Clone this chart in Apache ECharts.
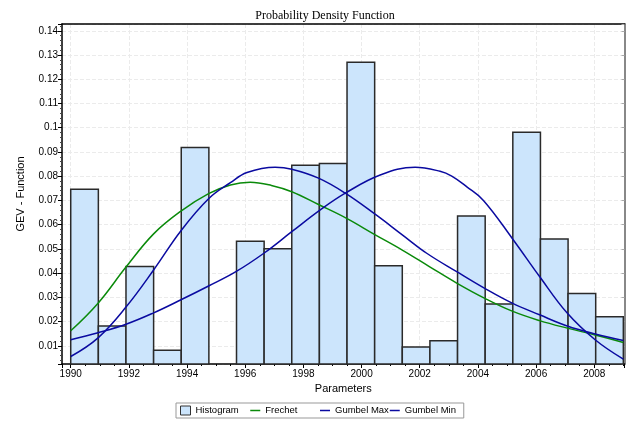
<!DOCTYPE html>
<html>
<head>
<meta charset="utf-8">
<script src="https://cdn.jsdelivr.net/npm/echarts@6/dist/echarts.min.js"></script>
<style>html,body{margin:0;padding:0;background:#fff;}#c{width:629px;height:424px;}</style>
</head>
<body>
<div id="c"></div>
<script>
// Histogram bins (start, end) and densities
var binStarts = [1990, 1990.95, 1991.9, 1992.85, 1993.8, 1994.75, 1995.7, 1996.65, 1997.6, 1998.55,
                 1999.5, 2000.45, 2001.4, 2002.35, 2003.3, 2004.25, 2005.2, 2006.15, 2007.1, 2008.05];
var binEnds   = [1990.95, 1991.9, 1992.85, 1993.8, 1994.75, 1995.7, 1996.65, 1997.6, 1998.55, 1999.5,
                 2000.45, 2001.4, 2002.35, 2003.3, 2004.25, 2005.2, 2006.15, 2007.1, 2008.05, 2009];
var histValues = [0.0746, 0.0182, 0.0427, 0.0082, 0.0918, 0, 0.0532, 0.0501, 0.0845, 0.0852,
                  0.1270, 0.0430, 0.0095, 0.0121, 0.0636, 0.0273, 0.0981, 0.0541, 0.0316, 0.0220];

// Frechet curve
var frechetX = [1990.0, 1990.94, 1991.9, 1992.85, 1993.79, 1994.74, 1995.49, 1996.17, 1996.9, 1997.6,
                1998.52, 1999.47, 2000.44, 2001.4, 2002.33, 2003.27, 2004.22, 2005.18, 2006.12, 2007.07, 2008.03, 2009.0];
var frechetY = [0.0162, 0.0276, 0.0425, 0.0562, 0.0656, 0.0728, 0.0764, 0.0775, 0.0762, 0.0736,
                0.0683, 0.0627, 0.0560, 0.0495, 0.0427, 0.0359, 0.0297, 0.0243, 0.0204, 0.0173, 0.0145, 0.0114];

// Gumbel Max curve
var gumbelMaxX = [1990.0, 1990.94, 1991.9, 1992.85, 1993.79, 1994.74, 1995.49, 1996.06, 1997.03, 1997.6,
                  1998.52, 1999.44, 2000.5, 2001.4, 2002.24, 2003.27, 2004.22, 2005.18, 2006.12, 2007.07, 2008.03, 2009.0];
var gumbelMaxY = [0.0056, 0.0133, 0.0260, 0.0413, 0.0575, 0.0707, 0.0773, 0.0815, 0.0837, 0.0829,
                  0.0792, 0.0730, 0.0640, 0.0558, 0.0482, 0.0406, 0.0338, 0.0276, 0.0228, 0.0182, 0.0149, 0.0122];

// Gumbel Min curve
var gumbelMinX = [1990.0, 1990.94, 1991.9, 1992.85, 1993.79, 1994.74, 1995.68, 1996.64, 1997.6, 1998.58,
                  1999.44, 2000.64, 2001.84, 2002.7, 2003.1, 2003.62, 2004.19, 2005.2, 2006.12, 2007.07, 2008.03, 2009.0];
var gumbelMinY = [0.0125, 0.0154, 0.0189, 0.0236, 0.0290, 0.0347, 0.0406, 0.0482, 0.0571, 0.0661,
                  0.0730, 0.0805, 0.0837, 0.0820, 0.0800, 0.0756, 0.0700, 0.0540, 0.0386, 0.0235, 0.0125, 0.0045];

var X_MIN = 1989.7, X_MAX = 2009.04, Y_MIN = 0.0025, Y_MAX = 0.1428;

function pairs(xs, ys) { return xs.map(function (x, i) { return [x, ys[i]]; }); }
var histData = binStarts.map(function (s, i) { return [s, binEnds[i], histValues[i]]; });

var GREEN = '#0a8a0a', BLUE = '#0a0aa0', BAR = '#CCE5FC';
var chart = echarts.init(document.getElementById('c'), null, { renderer: 'canvas' });
var SANS = 'Liberation Sans, Arial, sans-serif';
var option = {
  animation: false,
  backgroundColor: '#fff',
  textStyle: { fontFamily: SANS },
  title: {
    text: 'Probability Density Function',
    left: 320, top: 5, textAlign: 'center',
    textStyle: { fontFamily: 'Liberation Serif, Times New Roman, serif', fontSize: 12, fontWeight: 'normal', color: '#000' }
  },
  legend: {
    left: 176, top: 403,
    padding: [2, 5, 2, 4],
    borderColor: '#999', borderWidth: 1,
    itemGap: 0, itemWidth: 10, itemHeight: 9,
    textStyle: { fontSize: 9.5, color: '#000', width: 54, lineHeight: 11, fontFamily: SANS },
    data: [
      { name: 'Histogram', icon: 'rect', itemStyle: { color: BAR, borderColor: '#333', borderWidth: 1 } },
      { name: 'Frechet', icon: 'line', itemStyle: { color: GREEN, borderColor: GREEN, borderWidth: 1.5 } },
      { name: 'Gumbel Max', icon: 'line', itemStyle: { color: BLUE, borderColor: BLUE, borderWidth: 1.5 } },
      { name: 'Gumbel Min', icon: 'line', itemStyle: { color: BLUE, borderColor: BLUE, borderWidth: 1.5 } }
    ]
  },
  grid: { left: 62, right: 4.5, top: 24, bottom: 60, outerBoundsMode: 'none', containLabel: false },
  xAxis: [{
    type: 'value', min: X_MIN, max: X_MAX, splitNumber: 10,
    name: 'Parameters', nameLocation: 'middle', nameGap: 16,
    nameTextStyle: { fontSize: 11, color: '#000', fontFamily: SANS },
    axisLine: { lineStyle: { color: '#000', width: 1.5 } },
    axisTick: { show: true, length: 4, lineStyle: { color: '#000' } },
    minorTick: { show: true, splitNumber: 4, length: 2, lineStyle: { color: '#000' } },
    axisLabel: {
      margin: 5, fontSize: 10, color: '#000', showMinLabel: false, showMaxLabel: false,
      formatter: function (v) { return Math.abs(v - Math.round(v)) < 1e-6 ? String(Math.round(v)) : ''; }
    },
    splitLine: { show: true, lineStyle: { color: '#ebebeb', type: 'dashed', width: 1 } }
  }, {
    type: 'value', position: 'top', min: X_MIN, max: X_MAX, splitNumber: 10,
    axisLine: { show: true, lineStyle: { color: '#000', width: 1.5 } },
    axisTick: { show: false }, axisLabel: { show: false }, splitLine: { show: false }
  }],
  yAxis: [{
    type: 'value', min: Y_MIN, max: Y_MAX, splitNumber: 14,
    name: 'GEV - Function', nameLocation: 'middle', nameGap: 36,
    nameTextStyle: { fontSize: 11, color: '#000', fontFamily: SANS },
    axisLine: { show: true, lineStyle: { color: '#000', width: 1.5 } },
    axisTick: { show: true, length: 4, lineStyle: { color: '#000' } },
    minorTick: { show: true, splitNumber: 5, length: 2, lineStyle: { color: '#444' } },
    axisLabel: {
      margin: 4, fontSize: 10, color: '#000', showMinLabel: false, showMaxLabel: false,
      formatter: function (v) { return String(parseFloat(v.toFixed(4))); }
    },
    splitLine: { show: true, lineStyle: { color: '#ebebeb', type: 'dashed', width: 1 } }
  }, {
    type: 'value', position: 'right', min: Y_MIN, max: Y_MAX, splitNumber: 14,
    axisLine: { show: true, lineStyle: { color: '#888', width: 2 } },
    axisTick: { show: true, inside: true, length: 3, lineStyle: { color: '#aaa' } },
    axisLabel: { show: false }, splitLine: { show: false }
  }],
  series: [
    {
      name: 'Histogram', type: 'custom', xAxisIndex: 0, yAxisIndex: 0,
      encode: { x: [0, 1], y: 2 },
      itemStyle: { color: BAR, borderColor: '#333', borderWidth: 1 },
      renderItem: function (params, api) {
        var v = api.value(2);
        if (!(v > Y_MIN)) return null;
        var p0 = api.coord([api.value(0), v]);
        var p1 = api.coord([api.value(1), Y_MIN]);
        return {
          type: 'rect',
          shape: { x: p0[0], y: p0[1], width: p1[0] - p0[0], height: p1[1] - p0[1] },
          style: { fill: BAR, stroke: '#2a2a2a', lineWidth: 1.5 }
        };
      },
      data: histData, z: 2
    },
    {
      name: 'Frechet', type: 'line', smooth: 0.4, symbol: 'none',
      lineStyle: { color: GREEN, width: 1.5 }, itemStyle: { color: GREEN },
      data: pairs(frechetX, frechetY), z: 3
    },
    {
      name: 'Gumbel Max', type: 'line', smooth: 0.4, symbol: 'none',
      lineStyle: { color: BLUE, width: 1.5 }, itemStyle: { color: BLUE },
      data: pairs(gumbelMaxX, gumbelMaxY), z: 3
    },
    {
      name: 'Gumbel Min', type: 'line', smooth: 0.4, symbol: 'none',
      lineStyle: { color: BLUE, width: 1.5 }, itemStyle: { color: BLUE },
      data: pairs(gumbelMinX, gumbelMinY), z: 3
    }
  ]
};
chart.setOption(option);
</script>
</body>
</html>
